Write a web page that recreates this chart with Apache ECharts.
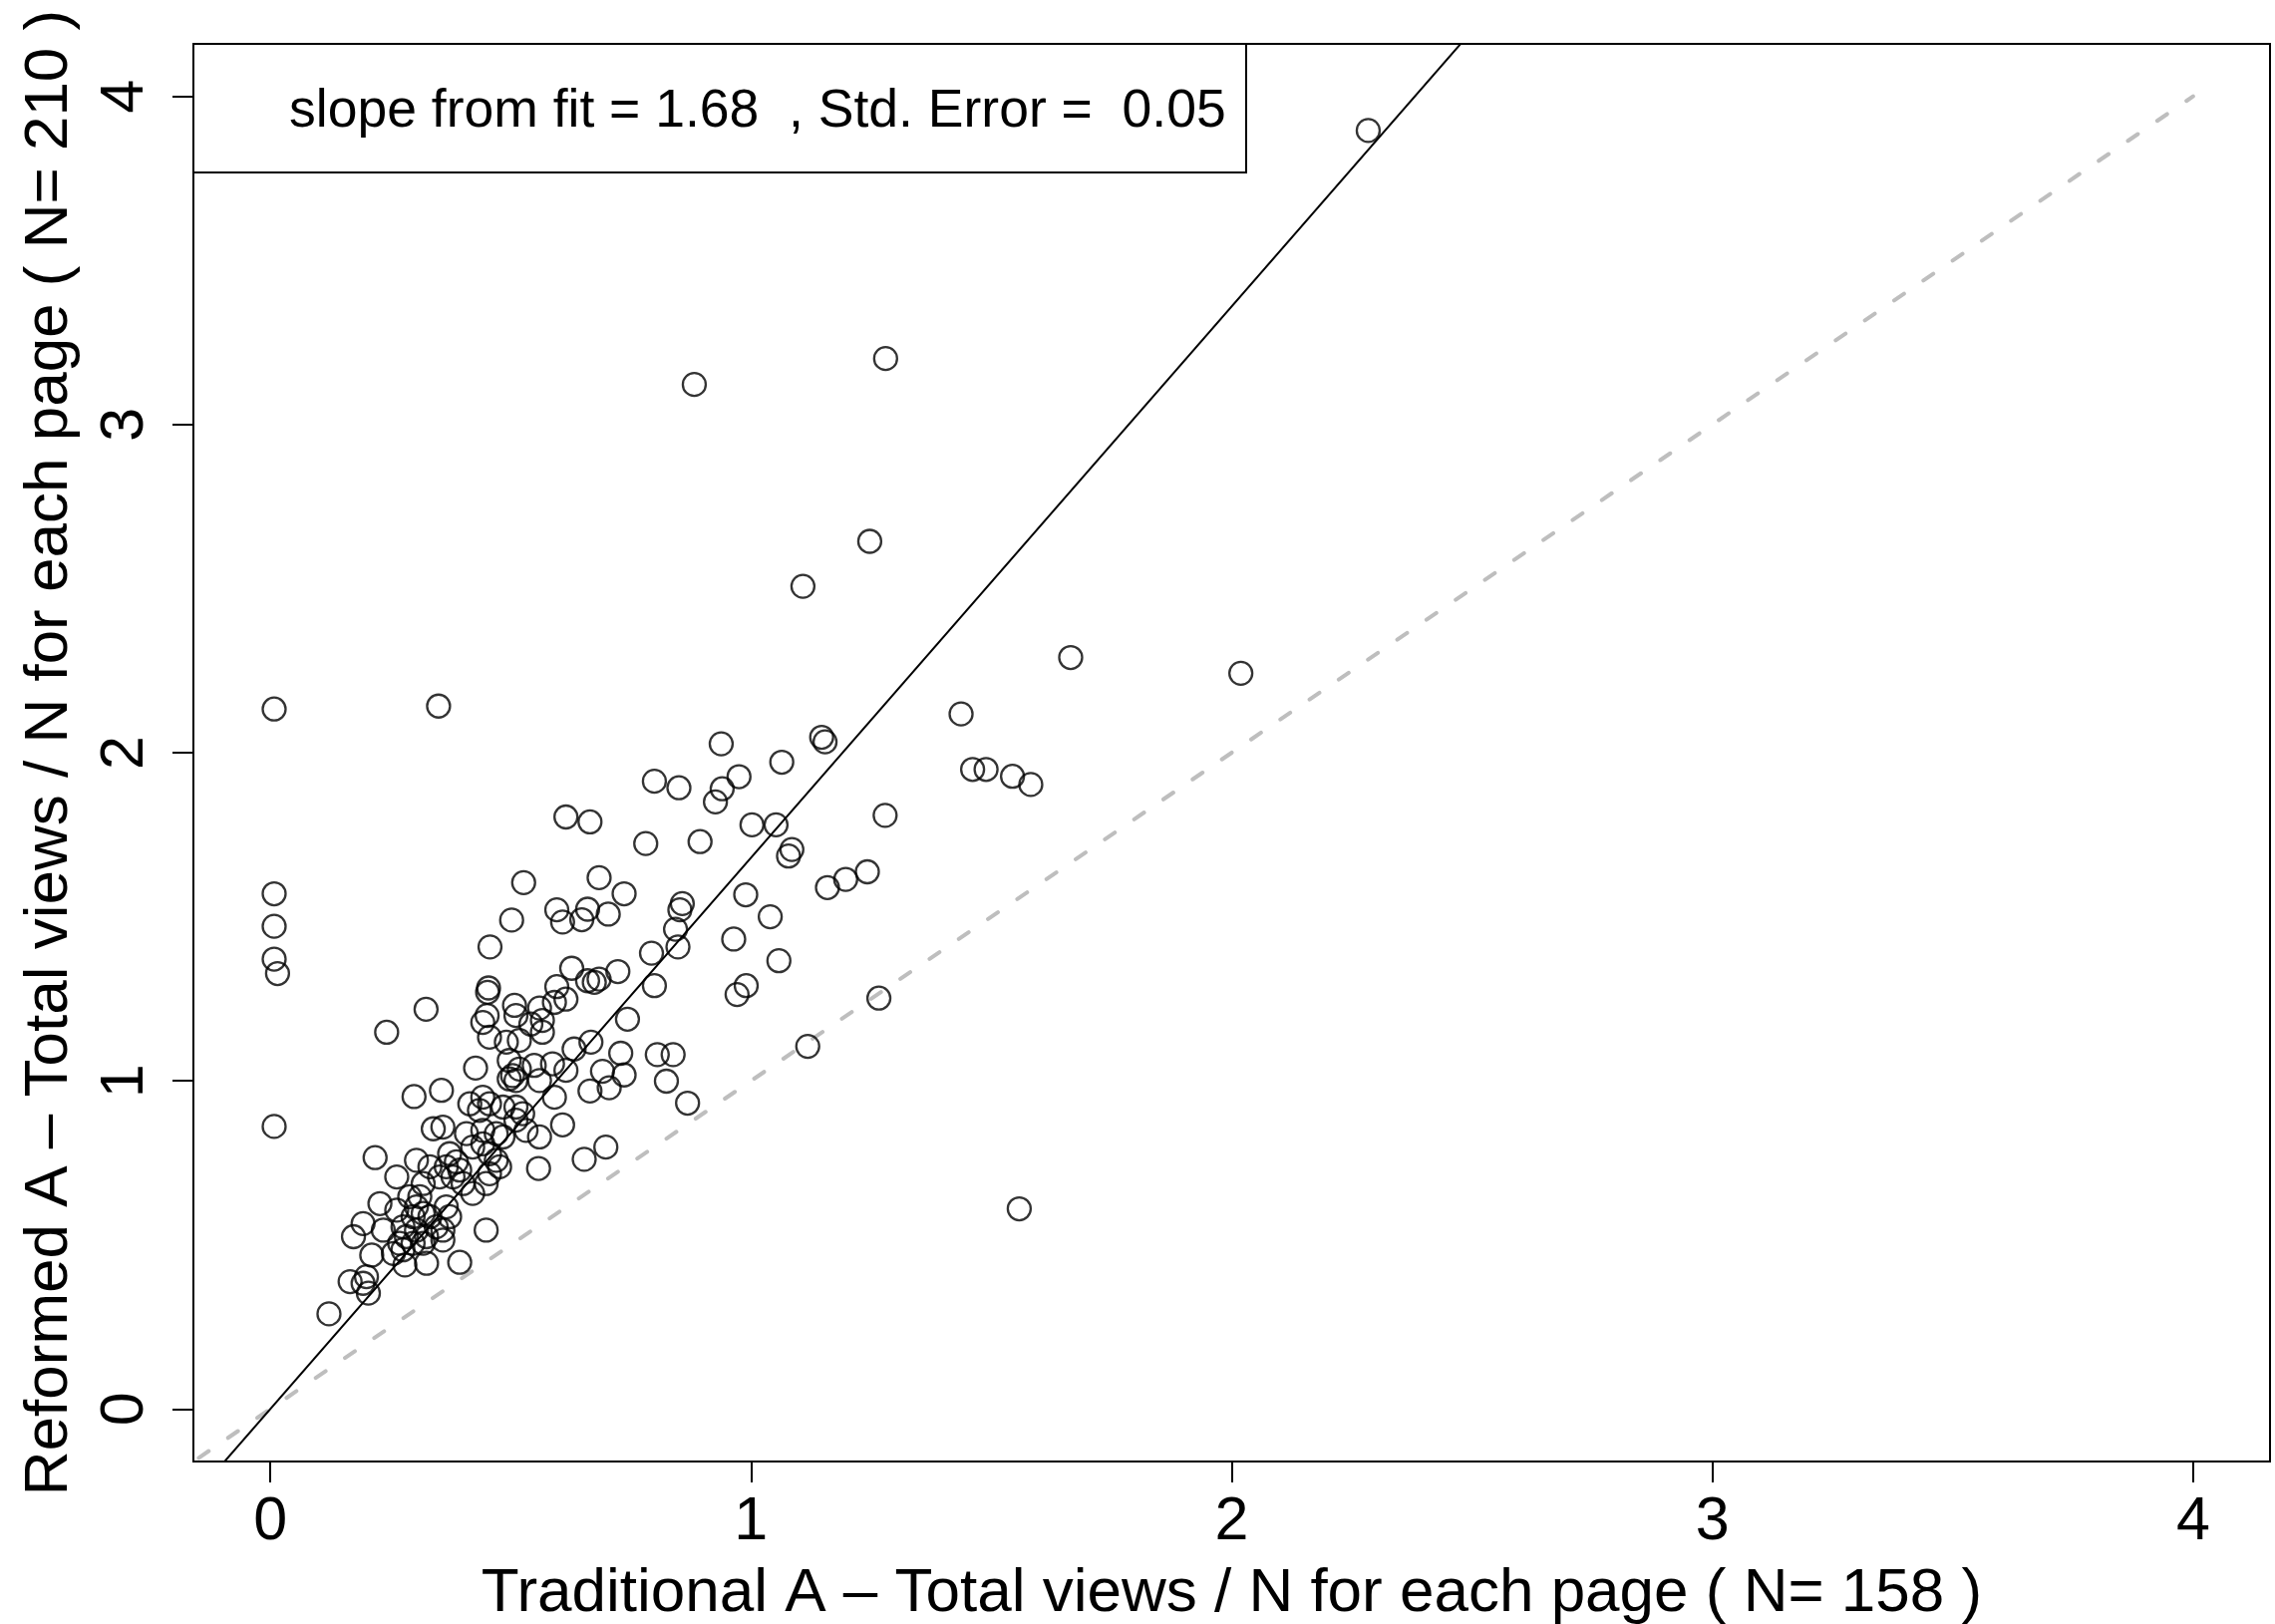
<!DOCTYPE html>
<html>
<head>
<meta charset="utf-8">
<script src="https://cdn.jsdelivr.net/npm/echarts@6/dist/echarts.min.js"></script>
<style>
  html, body { margin: 0; padding: 0; background: #fff; }
  #chart { width: 2282px; height: 1629px; }
</style>
</head>
<body>
<div id="chart"></div>
<script>
// ---- data ----
const traditionalViews = [
  2.284, 1.280, 0.882, 1.247, 1.108, 1.665, 2.019, 1.437, 1.461, 1.489, 1.544, 1.582, 1.118, 1.266, 1.558, 1.279,
  0.008, 0.350, 0.615, 0.527, 0.008, 0.008, 0.008, 0.015, 0.502, 0.596, 0.608, 0.457, 0.627, 0.596, 0.454, 0.452,
  0.324, 0.508, 0.560, 0.591, 0.615,
  0.938, 1.147, 1.154, 1.064, 0.799, 0.850, 0.975, 0.940, 0.926, 0.665, 1.002, 1.052, 0.781, 0.894, 1.085, 1.078,
  0.684, 0.736, 0.660, 0.648, 0.703, 0.857, 0.852, 0.843, 0.989, 1.040, 1.197, 1.242, 1.159, 0.964, 0.848, 0.793,
  1.058, 0.723, 0.660, 0.674, 0.684, 0.799, 0.990, 0.971,
  0.242, 0.008, 0.427, 0.299, 0.356, 0.218, 0.449, 0.394, 0.122, 0.558, 0.608, 0.632, 0.560, 0.442, 0.451, 0.511,
  0.566, 0.542, 0.456, 0.491, 0.518, 0.566, 0.497, 0.504, 0.511, 0.497, 0.518, 0.549, 0.560, 0.587, 0.615, 0.591,
  0.415, 0.442, 0.456, 0.484, 0.435, 0.511, 0.525, 0.511, 0.532, 0.339, 0.359, 0.408, 0.442, 0.470, 0.484, 0.421,
  0.442, 0.456, 0.373, 0.387, 0.366, 0.394, 0.352, 0.380, 0.401, 0.304, 0.332, 0.318, 0.470, 0.477, 0.456, 0.449,
  0.421, 0.263, 0.228, 0.263, 0.290, 0.311, 0.304, 0.318, 0.297, 0.332, 0.366, 0.373, 0.359, 0.345, 0.193, 0.173,
  0.235, 0.276, 0.283, 0.304, 0.325, 0.318, 0.297, 0.269, 0.276, 0.256, 0.359, 0.211, 0.280, 0.325, 0.166, 0.200,
  0.204, 0.193,
  0.743, 0.667, 0.729, 0.805, 0.838, 0.691, 0.736, 0.665, 0.705, 0.824, 0.868, 0.698, 0.653
];
const reformedViews = [
  3.896, 3.201, 3.122, 2.644, 2.507, 2.290, 2.242, 2.118, 1.949, 1.949, 1.928, 1.903, 1.105, 1.252, 0.610, 1.809,
  2.133, 2.142, 1.804, 1.604, 1.570, 1.471, 1.371, 1.327, 1.490, 1.521, 1.484, 1.408, 1.343, 1.287, 1.283, 1.270,
  1.218, 1.230, 1.222, 1.239, 1.249,
  2.027, 2.047, 2.033, 1.971, 1.913, 1.893, 1.927, 1.890, 1.850, 1.789, 1.780, 1.780, 1.723, 1.729, 1.705, 1.685,
  1.619, 1.570, 1.523, 1.491, 1.508, 1.540, 1.521, 1.462, 1.567, 1.500, 1.614, 1.637, 1.589, 1.432, 1.408, 1.389,
  1.366, 1.333, 1.305, 1.300, 1.310, 1.290, 1.290, 1.263,
  1.148, 0.861, 1.039, 0.952, 0.971, 0.766, 0.545, 0.447, 0.290, 0.733, 0.866, 1.097, 0.829, 1.178, 1.199, 1.199,
  1.184, 1.173, 1.133, 1.118, 1.123, 1.148, 1.062, 1.016, 1.001, 1.006, 1.036, 1.047, 1.001, 1.052, 1.032, 0.950,
  0.930, 0.950, 0.930, 0.920, 0.910, 0.920, 0.900, 0.880, 0.849, 0.854, 0.859, 0.839, 0.849, 0.839, 0.829, 0.798,
  0.808, 0.778, 0.778, 0.753, 0.738, 0.728, 0.707, 0.707, 0.687, 0.758, 0.738, 0.687, 0.758, 0.738, 0.717, 0.687,
  0.657, 0.707, 0.626, 0.606, 0.647, 0.647, 0.616, 0.596, 0.586, 0.586, 0.616, 0.586, 0.545, 0.555, 0.565, 0.525,
  0.545, 0.555, 0.525, 0.545, 0.525, 0.505, 0.505, 0.505, 0.485, 0.474, 0.515, 0.469, 0.439, 0.444, 0.388, 0.403,
  0.353, 0.383,
  1.188, 1.118, 1.084, 1.080, 1.080, 1.029, 1.018, 0.969, 0.979, 0.999, 0.932, 0.798, 0.761
];
const xTicks = [0, 1, 2, 3, 4];
const yTicks = [0, 1, 2, 3, 4];
const identityLine = [[-1, -1], [4, 4]];
const fitLine = [[-1, -1.68], [3, 5.04]];
const legendText = 'slope from fit = 1.68  , Std. Error =  0.05';
const xTitle = 'Traditional A \u2013 Total views / N for each page ( N= 158 )';
const yTitle = 'Reformed A \u2013 Total views / N for each page ( N= 210 )';

const points = traditionalViews.map((x, i) => [x, reformedViews[i]]);

const FONT = '"Liberation Sans", Arial, Helvetica, sans-serif';
const chart = echarts.init(document.getElementById('chart'), null, { renderer: 'canvas' });

const option = {
  animation: false,
  backgroundColor: '#ffffff',
  grid: {
    left: 194, top: 44, right: 5, bottom: 163,
    containLabel: false, outerBoundsMode: 'none',
    show: true, borderColor: '#000', borderWidth: 2, backgroundColor: 'transparent'
  },
  xAxis: {
    type: 'value', min: -0.16, max: 4.16,
    name: xTitle, nameLocation: 'middle', nameGap: 102,
    nameTextStyle: { fontSize: 62, color: '#000', fontFamily: FONT },
    axisLine: { show: true, onZero: false, lineStyle: { color: '#000', width: 2 } },
    axisTick: { show: true, length: 21, customValues: xTicks, lineStyle: { color: '#000', width: 2 } },
    axisLabel: { customValues: xTicks, fontSize: 61, color: '#000', margin: 31, fontFamily: FONT },
    splitLine: { show: false }
  },
  yAxis: {
    type: 'value', min: -0.16, max: 4.16,
    name: yTitle, nameLocation: 'middle', nameGap: 113,
    nameTextStyle: { fontSize: 62, color: '#000', fontFamily: FONT },
    axisLine: { show: true, onZero: false, lineStyle: { color: '#000', width: 2 } },
    axisTick: { show: true, length: 21, customValues: yTicks, lineStyle: { color: '#000', width: 2 } },
    axisLabel: { customValues: yTicks, rotate: 90, fontSize: 61, color: '#000', margin: 37, fontFamily: FONT },
    splitLine: { show: false }
  },
  series: [
    {
      type: 'line', data: identityLine, symbol: 'none', clip: true, z: 1,
      lineStyle: { color: '#bebebe', width: 4, type: [12, 23.5], cap: 'round' }
    },
    {
      type: 'line', data: fitLine, symbol: 'none', clip: true, z: 2,
      lineStyle: { color: '#000', width: 2 }
    },
    {
      type: 'scatter', data: points, symbol: 'circle', symbolSize: 23, z: 3,
      itemStyle: { color: 'rgba(0,0,0,0)', borderColor: '#000', borderWidth: 2.3 }
    }
  ],
  graphic: [
    {
      type: 'rect', z: 10,
      shape: { x: 194, y: 44, width: 1056, height: 129 },
      style: { fill: '#fff', stroke: '#000', lineWidth: 2 }
    },
    {
      type: 'text', z: 11, x: 290, y: 112,
      style: { text: legendText, fontSize: 53.5, fontFamily: FONT, fill: '#000', align: 'left', verticalAlign: 'middle' }
    }
  ]
};
chart.setOption(option);
</script>
</body>
</html>
